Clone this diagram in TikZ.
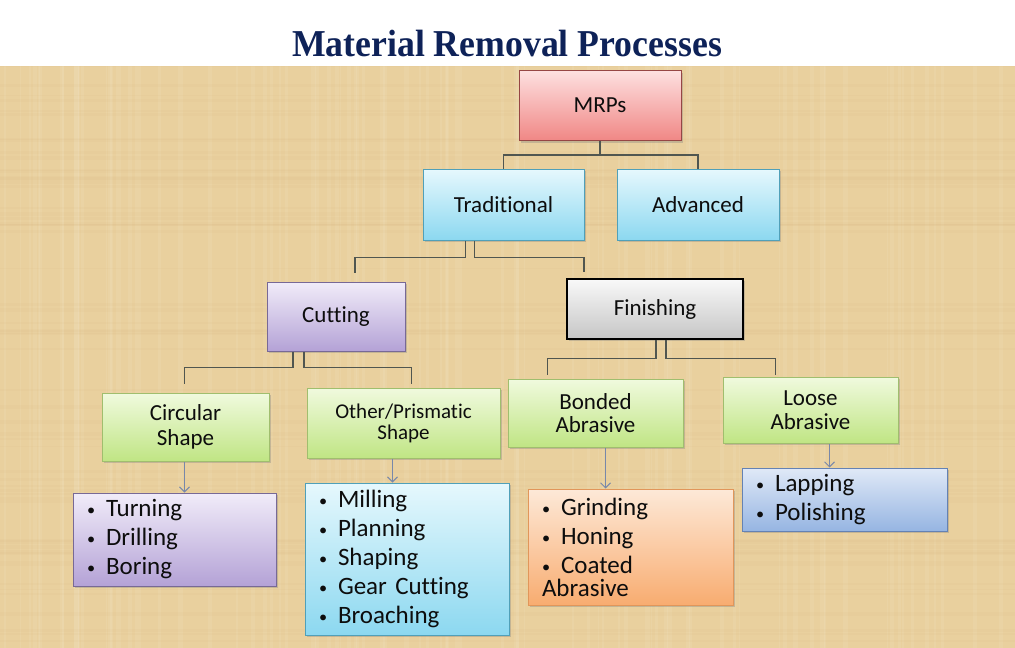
\documentclass[tikz,border=0pt]{standalone}
\usepackage{graphicx}
\usepackage{xcolor}
\usepackage{fontspec}
\setmainfont{Carlito}[Ligatures=NoCommon]
\newfontfamily\titlefont{Liberation Serif}
\usepackage{tikz}
\usetikzlibrary{shadows,arrows.meta}

\definecolor{bgtan}{RGB}{233,208,158}
\definecolor{titleblue}{RGB}{14,34,88}
\definecolor{linkgray}{RGB}{80,86,80}
\definecolor{arrowblue}{RGB}{120,136,170}
\definecolor{pinktop}{RGB}{253,224,224}
\definecolor{pinkbot}{RGB}{240,135,133}
\definecolor{pinkline}{RGB}{150,70,68}
\definecolor{cyantop}{RGB}{230,248,253}
\definecolor{cyanbot}{RGB}{140,216,240}
\definecolor{cyanline}{RGB}{80,160,185}
\definecolor{lavtop}{RGB}{241,236,249}
\definecolor{lavbot}{RGB}{180,162,214}
\definecolor{lavline}{RGB}{120,105,150}
\definecolor{greentop}{RGB}{240,250,222}
\definecolor{greenbot}{RGB}{192,229,132}
\definecolor{greenline}{RGB}{160,190,110}
\definecolor{orangetop}{RGB}{253,233,216}
\definecolor{orangebot}{RGB}{248,172,112}
\definecolor{orangeline}{RGB}{225,150,90}
\definecolor{bluetop}{RGB}{224,233,247}
\definecolor{bluebot}{RGB}{150,181,226}
\definecolor{blueline}{RGB}{100,130,180}

\tikzset{
  procbox/.style={draw, line width=1pt, inner sep=0pt, align=center, text=black!95,
    font=\fontsize{23}{25}\selectfont,
    drop shadow={shadow xshift=2pt, shadow yshift=-2pt, opacity=0.35}},
  listbox/.style={procbox, align=left, inner xsep=14pt, font=\fontsize{25}{29}\selectfont},
  pinkbox/.style={top color=pinktop, bottom color=pinkbot, draw=pinkline},
  cyanbox/.style={top color=cyantop, bottom color=cyanbot, draw=cyanline},
  purplebox/.style={top color=lavtop, bottom color=lavbot, draw=lavline},
  graybox/.style={top color=gray!5, bottom color=gray!45, draw=black},
  greenbox/.style={top color=greentop, bottom color=greenbot, draw=greenline},
  orangebox/.style={top color=orangetop, bottom color=orangebot, draw=orangeline},
  bluebox/.style={top color=bluetop, bottom color=bluebot, draw=blueline},
  link/.style={draw=linkgray, line width=1.5pt},
  flow/.style={draw=arrowblue, line width=1pt, -{Straight Barb[length=5pt, width=10pt]}}
}

\newcommand{\itm}[1]{\makebox[19pt][l]{\raisebox{1pt}{\scalebox{0.65}{\textbullet}}}#1}

\begin{document}
\begin{tikzpicture}[x=1pt, y=1pt]
\useasboundingbox (0,0) rectangle (1015,-648);

% Background with a light paper texture
\fill[bgtan] (0,-66) rectangle (1015,-648);
\pgfmathsetseed{7}
\foreach \i in {1,...,90} {
  \pgfmathsetmacro{\xx}{rnd*1015}
  \pgfmathsetmacro{\ww}{1+rnd*4}
  \fill[white, opacity=0.07] (\xx,-66) rectangle ++(\ww,-582);
}
\foreach \i in {1,...,60} {
  \pgfmathsetmacro{\yy}{-66-rnd*582}
  \pgfmathsetmacro{\ww}{1+rnd*3}
  \fill[brown, opacity=0.03] (0,\yy) rectangle ++(1015,-\ww);
}

% Title
\node[anchor=base, text=titleblue, font=\titlefont\bfseries\fontsize{38}{40}\selectfont] (ttl) at (507,-56)
  {\scalebox{0.94}[1]{Material Removal Processes}};

% Top levels
\node[procbox, pinkbox, minimum width=162, minimum height=70] (mrps) at (600,-105.5) {MRPs};
\node[procbox, cyanbox, minimum width=161, minimum height=71] (trad) at (503.5,-204.5) {Traditional};
\node[procbox, cyanbox, minimum width=162, minimum height=71] (adv) at (698,-204.5) {Advanced};

\node[procbox, purplebox, minimum width=138, minimum height=69] (cut) at (336,-316.5) {Cutting};
\node[procbox, graybox, minimum width=176, minimum height=60, line width=1.3pt] (fin) at (655,-309) {Finishing};

% Sub groups
\node[procbox, greenbox, minimum width=167, minimum height=68] (circ) at (185.5,-427) {Circular\\Shape};
\node[procbox, greenbox, minimum width=193, minimum height=70, font=\fontsize{21}{21}\selectfont] (prism) at (403.5,-423) {Other/Prismatic\\Shape};
\node[procbox, greenbox, minimum width=175, minimum height=68, font=\fontsize{23}{23}\selectfont] (bond) at (595.5,-413) {Bonded\\Abrasive};
\node[procbox, greenbox, minimum width=175, minimum height=66, font=\fontsize{23}{24}\selectfont] (loose) at (810.5,-410) {Loose\\Abrasive};

% Process lists
\node[listbox, purplebox, text width=175, minimum height=93] (turn) at (174.5,-539.5)
  {\itm{Turning}\\\itm{Drilling}\\\itm{Boring}};
\node[listbox, cyanbox, text width=176, minimum height=152] (mill) at (407,-559)
  {\itm{Milling}\\\itm{Planning}\\\itm{Shaping}\\\itm{Gear Cutting}\\\itm{Broaching}};
\node[listbox, orangebox, text width=177, minimum height=116] (grind) at (630.5,-547)
  {\itm{Grinding}\\\itm{Honing}\\\itm{Coated}\\[-6pt]Abrasive};
\node[listbox, bluebox, text width=177, minimum height=63] (lap) at (844.5,-499.5)
  {\itm{Lapping}\\\itm{Polishing}};

% Tree connectors
\draw[link] (mrps.south) -- ++(0,-14) coordinate (m1) -| (trad.north);
\draw[link] (m1) -| (adv.north);

\draw[link] ([xshift=-38]trad.south) -- ++(0,-17) -| ([xshift=19,yshift=9]cut.north);
\draw[link] ([xshift=-29]trad.south) -- ++(0,-17) -| ([xshift=-71,yshift=6]fin.north);

\draw[link] ([xshift=-43]cut.south) -- ++(0,-16) -| ([xshift=-1,yshift=9]circ.north);
\draw[link] ([xshift=-32]cut.south) -- ++(0,-16) -| ([xshift=8,yshift=4]prism.north);

\draw[link] ([xshift=1]fin.south) -- ++(0,-19) -| ([xshift=-48,yshift=4]bond.north);
\draw[link] ([xshift=11]fin.south) -- ++(0,-19) -| ([xshift=-35,yshift=2]loose.north);

% Arrows to the lists
\draw[flow] ([xshift=-1]circ.south) -- ([xshift=-1]circ.south |- turn.north);
\draw[flow] ([xshift=-11]prism.south) -- ([xshift=-11]prism.south |- mill.north);
\draw[flow] ([xshift=10]bond.south) -- ([xshift=10]bond.south |- grind.north);
\draw[flow] ([xshift=19]loose.south) -- ([xshift=19]loose.south |- lap.north);

\end{tikzpicture}
\end{document}
